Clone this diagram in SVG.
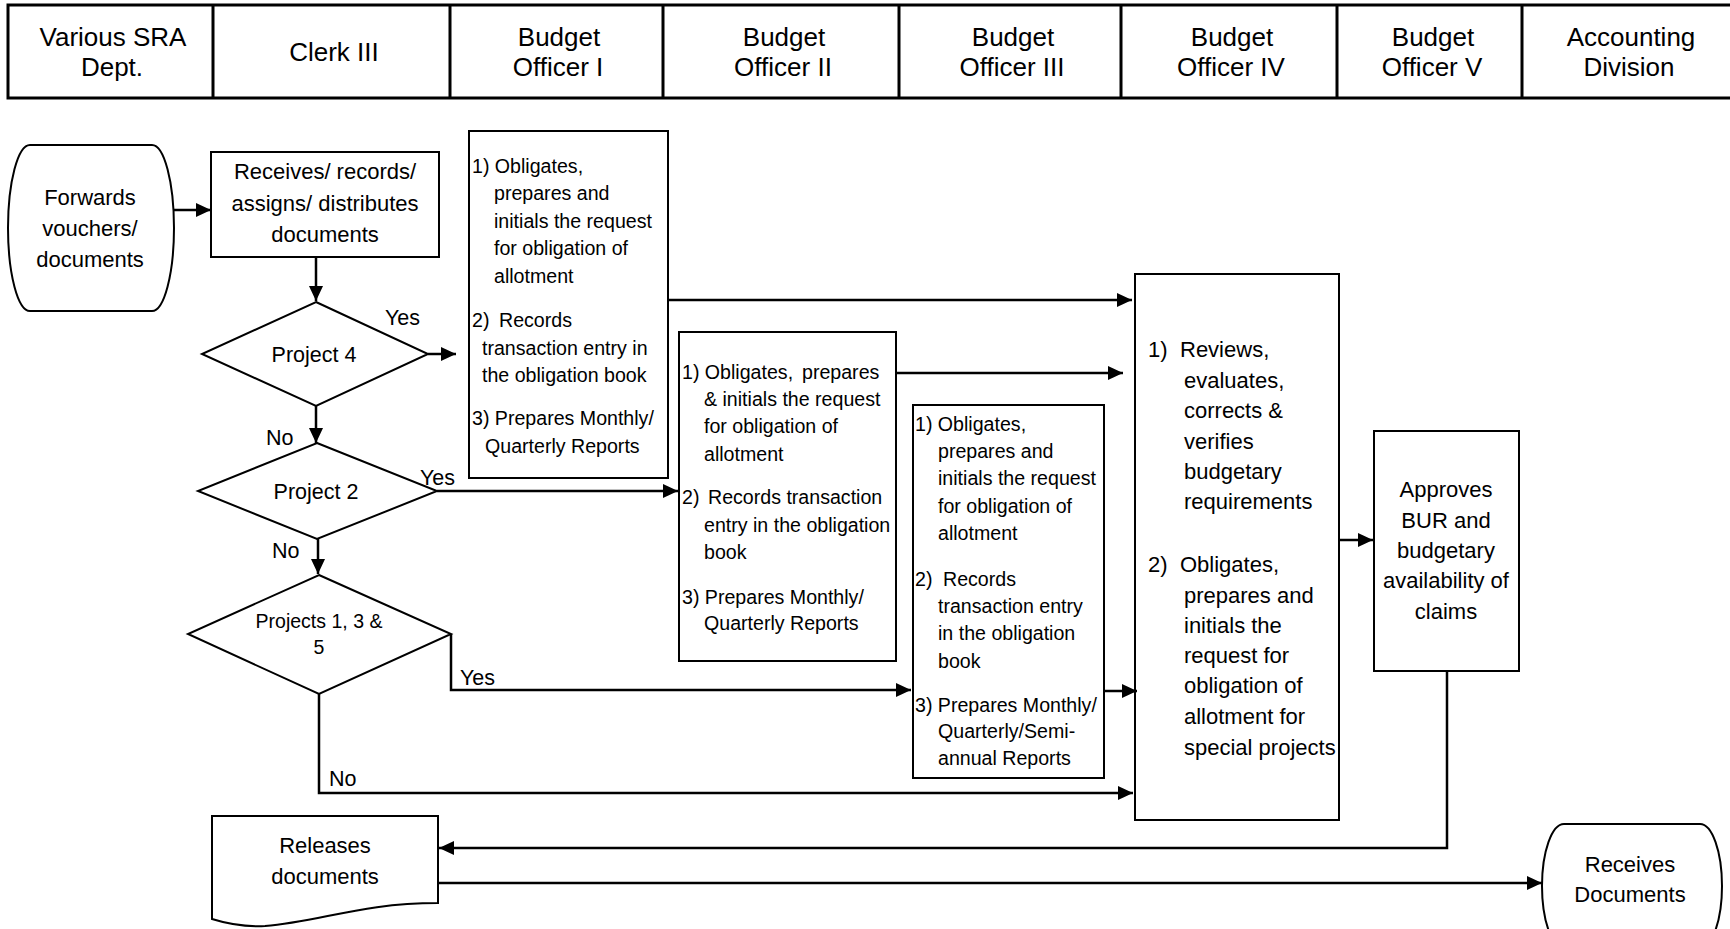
<svg xmlns="http://www.w3.org/2000/svg" width="1730" height="929" viewBox="0 0 1730 929">
<style>
text{font-family:"Liberation Sans",Arial,sans-serif;fill:#000}
.h{font-size:26px;text-anchor:middle}
.m{font-size:22px;text-anchor:middle}
.s{font-size:19.6px}
.l{font-size:22px}
.d{font-size:21.5px;text-anchor:middle}
.lb{font-size:21.5px}
.nd{fill:#fff;stroke:#000;stroke-width:2}
.hd{fill:#fff;stroke:#000;stroke-width:3}
.c path{fill:none;stroke:#000;stroke-width:2.5}
</style>
<defs>
<marker id="ah" markerUnits="userSpaceOnUse" markerWidth="15" markerHeight="14" refX="15" refY="7" orient="auto"><path d="M0,0 L15,7 L0,14 Z" fill="#000"/></marker>
</defs>
<rect width="1730" height="929" fill="#fff"/>
<g id="header">
<rect class="hd" x="8" y="5" width="1735" height="93"/>
<path d="M213,5V98M450,5V98M663,5V98M899,5V98M1121,5V98M1337,5V98M1522,5V98" stroke="#000" stroke-width="3" fill="none"/>
<text class="h" x="113" y="46">Various SRA</text><text class="h" x="112" y="76">Dept.</text>
<text class="h" x="334" y="61">Clerk III</text>
<text class="h" x="559" y="46">Budget</text><text class="h" x="558" y="76">Officer I</text>
<text class="h" x="784" y="46">Budget</text><text class="h" x="783" y="76">Officer II</text>
<text class="h" x="1013" y="46">Budget</text><text class="h" x="1012" y="76">Officer III</text>
<text class="h" x="1232" y="46">Budget</text><text class="h" x="1231" y="76">Officer IV</text>
<text class="h" x="1433" y="46">Budget</text><text class="h" x="1432" y="76">Officer V</text>
<text class="h" x="1631" y="46">Accounting</text><text class="h" x="1629" y="76">Division</text>
</g>
<g id="forwards">
<path class="nd" d="M30,145H152A22,83 0 0 1 152,311H30A22,83 0 0 1 30,145Z"/>
<text class="m" x="90" y="205">Forwards</text><text class="m" x="90" y="236">vouchers/</text><text class="m" x="90" y="267">documents</text>
</g>
<g id="receives">
<rect class="nd" x="211" y="152" width="228" height="105"/>
<text class="m" x="325" y="179">Receives/ records/</text><text class="m" x="325" y="211">assigns/ distributes</text><text class="m" x="325" y="242">documents</text>
</g>
<g id="project4">
<polygon class="nd" points="316,302 428,354 316,406 202,354"/>
<text class="d" x="314" y="362">Project 4</text>
</g>
<g id="project2">
<polygon class="nd" points="317,443 437,491 317,539 198,491"/>
<text class="d" x="316" y="499">Project 2</text>
</g>
<g id="projects135">
<polygon class="nd" points="319,575 451,634 319,694 188,634"/>
<text class="d" style="font-size:19.5px" x="319" y="628">Projects 1, 3 &amp;</text>
<text class="d" style="font-size:19.5px" x="319" y="654">5</text>
</g>
<g id="bo1">
<rect class="nd" x="469" y="131" width="199" height="347"/>
<text class="s" x="472" y="173">1) Obligates,</text>
<text class="s" x="494" y="200">prepares and</text>
<text class="s" x="494" y="228">initials the request</text>
<text class="s" x="494" y="255">for obligation of</text>
<text class="s" x="494" y="283">allotment</text>
<text class="s" y="327"><tspan x="472">2)</tspan><tspan x="499">Records</tspan></text>
<text class="s" x="482" y="355">transaction entry in</text>
<text class="s" x="482" y="382">the obligation book</text>
<text class="s" x="472" y="425">3) Prepares Monthly/</text>
<text class="s" x="485" y="453">Quarterly Reports</text>
</g>
<g id="bo2">
<rect class="nd" x="679" y="332" width="217" height="329"/>
<text class="s" y="379"><tspan x="682">1) Obligates,</tspan><tspan x="802">prepares</tspan></text>
<text class="s" x="704" y="406">&amp; initials the request</text>
<text class="s" x="704" y="433">for obligation of</text>
<text class="s" x="704" y="461">allotment</text>
<text class="s" y="504"><tspan x="682">2)</tspan><tspan x="708">Records transaction</tspan></text>
<text class="s" x="704" y="532">entry in the obligation</text>
<text class="s" x="704" y="559">book</text>
<text class="s" x="682" y="604">3) Prepares Monthly/</text>
<text class="s" x="704" y="630">Quarterly Reports</text>
</g>
<g id="bo3">
<rect class="nd" x="913" y="405" width="191" height="373"/>
<text class="s" x="915" y="431">1) Obligates,</text>
<text class="s" x="938" y="458">prepares and</text>
<text class="s" x="938" y="485">initials the request</text>
<text class="s" x="938" y="513">for obligation of</text>
<text class="s" x="938" y="540">allotment</text>
<text class="s" y="586"><tspan x="915">2)</tspan><tspan x="943">Records</tspan></text>
<text class="s" x="938" y="613">transaction entry</text>
<text class="s" x="938" y="640">in the obligation</text>
<text class="s" x="938" y="668">book</text>
<text class="s" x="915" y="712">3) Prepares Monthly/</text>
<text class="s" x="938" y="738">Quarterly/Semi-</text>
<text class="s" x="938" y="765">annual Reports</text>
</g>
<g id="bo4">
<rect class="nd" x="1135" y="274" width="204" height="546"/>
<text class="l" y="357"><tspan x="1148">1)</tspan><tspan x="1180">Reviews,</tspan></text>
<text class="l" x="1184" y="388">evaluates,</text>
<text class="l" x="1184" y="418">corrects &amp;</text>
<text class="l" x="1184" y="449">verifies</text>
<text class="l" x="1184" y="479">budgetary</text>
<text class="l" x="1184" y="509">requirements</text>
<text class="l" y="572"><tspan x="1148">2)</tspan><tspan x="1180">Obligates,</tspan></text>
<text class="l" x="1184" y="603">prepares and</text>
<text class="l" x="1184" y="633">initials the</text>
<text class="l" x="1184" y="663">request for</text>
<text class="l" x="1184" y="693">obligation of</text>
<text class="l" x="1184" y="724">allotment for</text>
<text class="l" x="1184" y="755">special projects</text>
</g>
<g id="bo5">
<rect class="nd" x="1374" y="431" width="145" height="240"/>
<text class="m" x="1446" y="497">Approves</text>
<text class="m" x="1446" y="528">BUR and</text>
<text class="m" x="1446" y="558">budgetary</text>
<text class="m" x="1446" y="588">availability of</text>
<text class="m" x="1446" y="619">claims</text>
</g>
<g id="releases">
<path class="nd" d="M212,816H438V903C360,903 320,922 265,926C245,927 228,924 212,919Z"/>
<text class="m" x="325" y="853">Releases</text>
<text class="m" x="325" y="884">documents</text>
</g>
<g id="receivesDocs">
<path class="nd" d="M1564,824H1700A22,62 0 0 1 1700,948H1564A22,62 0 0 1 1564,824Z"/>
<text class="m" x="1630" y="872">Receives</text>
<text class="m" x="1630" y="902">Documents</text>
</g>
<g id="connectors" class="c">
<path d="M174,210H211" marker-end="url(#ah)"/>
<path d="M316,257V301" marker-end="url(#ah)"/>
<path d="M428,354H456" marker-end="url(#ah)"/>
<path d="M316,406V443" marker-end="url(#ah)"/>
<path d="M437,491H678" marker-end="url(#ah)"/>
<path d="M318,539V574" marker-end="url(#ah)"/>
<path d="M451,634V690H911" marker-end="url(#ah)"/>
<path d="M319,694V793H1133" marker-end="url(#ah)"/>
<path d="M668,300H1132" marker-end="url(#ah)"/>
<path d="M896,373H1123" marker-end="url(#ah)"/>
<path d="M1104,691H1137" marker-end="url(#ah)"/>
<path d="M1339,540H1373" marker-end="url(#ah)"/>
<path d="M1447,671V848H439" marker-end="url(#ah)"/>
<path d="M438,883H1542" marker-end="url(#ah)"/>
</g>
<g id="labels">
<text class="lb" x="385" y="325">Yes</text>
<text class="lb" x="266" y="445">No</text>
<text class="lb" x="420" y="485">Yes</text>
<text class="lb" x="272" y="558">No</text>
<text class="lb" x="460" y="685">Yes</text>
<text class="lb" x="329" y="786">No</text>
</g>
</svg>
